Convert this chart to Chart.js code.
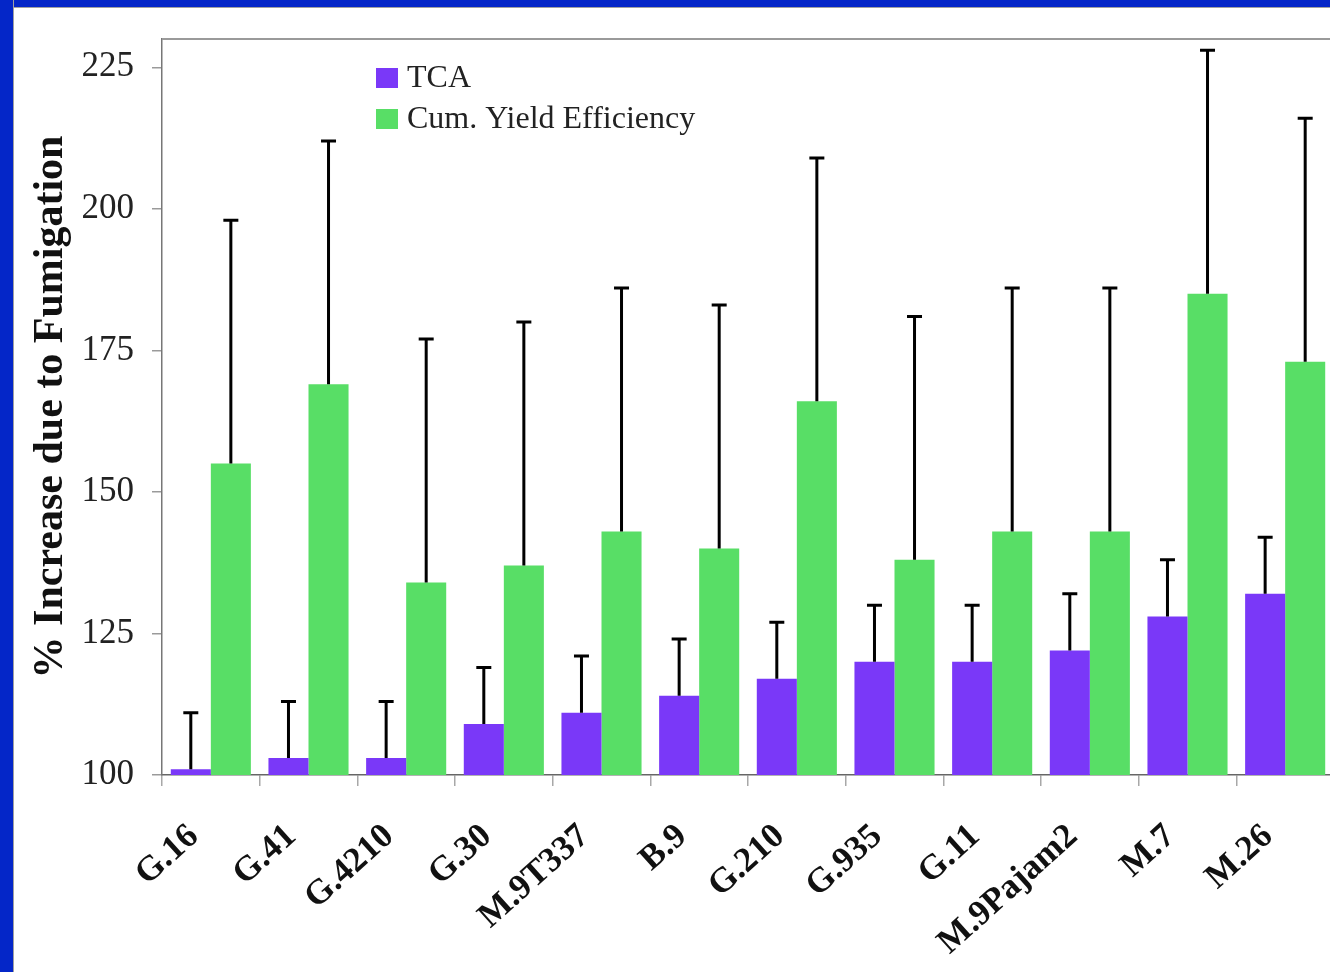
<!DOCTYPE html>
<html>
<head>
<meta charset="utf-8">
<script src="https://cdn.jsdelivr.net/npm/chart.js@4.4.0/dist/chart.umd.min.js"></script>
<style>
  html, body { margin: 0; padding: 0; background: #ffffff; overflow: hidden; width: 1330px; height: 972px; }
  #frameTop { position: absolute; left: 0; top: 0; width: 1330px; height: 7px; background: #0426c8; border-bottom: 1px solid #a0a0a0; }
  #frameLeft { position: absolute; left: 0; top: 0; width: 13px; height: 972px; background: #0426c8; border-right: 1px solid #a0a0a0; }
  #wrap { position: absolute; left: 0; top: 0; width: 1345px; height: 972px; }
</style>
</head>
<body>
<div id="frameTop"></div>
<div id="frameLeft"></div>
<div id="wrap"><canvas id="chart" width="1345" height="972"></canvas></div>
<script>
// Rootstocks and their response to soil fumigation
const categories = ['G.16', 'G.41', 'G.4210', 'G.30', 'M.9T337', 'B.9', 'G.210', 'G.935', 'G.11', 'M.9Pajam2', 'M.7', 'M.26'];
const tcaValues = [101, 103, 103, 109, 111, 114, 117, 120, 120, 122, 128, 132];
const tcaErrors = [10, 10, 10, 10, 10, 10, 10, 10, 10, 10, 10, 10];
const yieldValues = [155, 169, 134, 137, 143, 140, 166, 138, 143, 143, 185, 173];
const yieldErrors = [43, 43, 43, 43, 43, 43, 43, 43, 43, 43, 43, 43];
const yTickValues = [100, 125, 150, 175, 200, 225];

const serif = '"Liberation Serif", "Times New Roman", serif';

// Upper-only error bars with a short cap
const errorBarPlugin = {
  id: 'errorBars',
  afterDatasetsDraw(chart) {
    const { ctx } = chart;
    const yScale = chart.scales.y;
    chart.data.datasets.forEach((ds, di) => {
      const meta = chart.getDatasetMeta(di);
      meta.data.forEach((bar, i) => {
        const top = yScale.getPixelForValue(ds.data[i] + ds.errors[i]);
        ctx.save();
        ctx.strokeStyle = '#000000';
        ctx.lineWidth = 3;
        ctx.beginPath();
        ctx.moveTo(bar.x, bar.y);
        ctx.lineTo(bar.x, top);
        ctx.moveTo(bar.x - 7.5, top);
        ctx.lineTo(bar.x + 7.5, top);
        ctx.stroke();
        ctx.restore();
      });
    });
  }
};

// Grey frame along the top and right of the plot area
const framePlugin = {
  id: 'plotFrame',
  beforeDatasetsDraw(chart) {
    const { ctx, chartArea } = chart;
    ctx.save();
    ctx.strokeStyle = '#9a9a9a';
    ctx.lineWidth = 2;
    ctx.beginPath();
    ctx.moveTo(chartArea.left, chartArea.top);
    ctx.lineTo(chartArea.right, chartArea.top);
    ctx.lineTo(chartArea.right, chartArea.bottom);
    ctx.stroke();
    ctx.restore();
  }
};

// Legend drawn inside the plot area
const insetLegendPlugin = {
  id: 'insetLegend',
  afterDraw(chart) {
    const { ctx, chartArea } = chart;
    const x0 = chartArea.left + 214;
    const y0 = chartArea.top + 39;
    ctx.save();
    chart.data.datasets.forEach((ds, i) => {
      const y = y0 + i * 41;
      ctx.fillStyle = ds.backgroundColor;
      ctx.fillRect(x0, y - 10, 22, 20);
      ctx.fillStyle = '#222222';
      ctx.font = '32px ' + serif;
      ctx.textBaseline = 'middle';
      ctx.textAlign = 'left';
      ctx.fillText(ds.label, x0 + 31, y + 1);
    });
    ctx.restore();
  }
};

new Chart(document.getElementById('chart'), {
  type: 'bar',
  data: {
    labels: categories,
    datasets: [
      { label: 'TCA', data: tcaValues, errors: tcaErrors, backgroundColor: '#7a38f8' },
      { label: 'Cum. Yield Efficiency', data: yieldValues, errors: yieldErrors, backgroundColor: '#58de66' }
    ]
  },
  options: {
    responsive: false,
    animation: false,
    layout: { padding: { top: 37, right: 11, left: 0, bottom: 0 } },
    datasets: { bar: { categoryPercentage: 0.82, barPercentage: 1.0 } },
    plugins: { legend: { display: false }, tooltip: { enabled: false } },
    scales: {
      x: {
        afterFit(scale) { scale.height = 197; },
        grid: { offset: true, drawOnChartArea: false, drawTicks: true, tickLength: 11, color: '#a8a8a8', lineWidth: 1.5 },
        border: { display: true, color: '#666666', width: 1.5 },
        ticks: {
          minRotation: 42, maxRotation: 42, autoSkip: false, padding: 30, labelOffset: -17,
          color: '#111111',
          font: { family: serif, size: 35, weight: 'bold' }
        }
      },
      y: {
        min: 100, max: 230,
        afterFit(scale) { scale.width = 162; },
        afterBuildTicks(scale) { scale.ticks = yTickValues.map(v => ({ value: v })); },
        grid: { drawOnChartArea: false, drawTicks: true, tickLength: 10, color: '#9a9a9a', lineWidth: 1.5 },
        border: { display: true, color: '#777777', width: 1.5 },
        ticks: {
          padding: 18, color: '#222222',
          font: { family: serif, size: 35 }
        },
        title: {
          display: true,
          text: '% Increase due to Fumigation',
          color: '#111111',
          font: { family: serif, size: 42, weight: 'bold' },
          padding: { top: 26, bottom: 0 }
        }
      }
    }
  },
  plugins: [framePlugin, errorBarPlugin, insetLegendPlugin]
});
</script>
</body>
</html>
